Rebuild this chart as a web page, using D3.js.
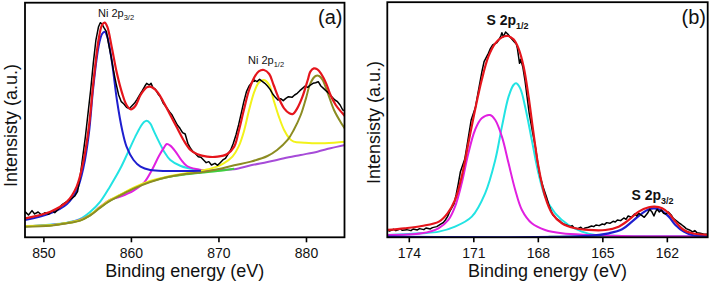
<!DOCTYPE html>
<html><head><meta charset="utf-8">
<script src="https://cdn.jsdelivr.net/npm/d3@7/dist/d3.min.js"></script>
<style>body{margin:0;background:#fff}svg{display:block}</style>
</head><body>
<svg id="c" width="709" height="287"></svg>
<script>
// ---------- Panel (a): Ni 2p ----------
const aTicks = [850, 860, 870, 880];
const aData = [[847.9,77],[848.3,67],[848.7,80],[849.0,70],[849.4,76],[849.8,67],[850.2,74],[850.6,69],[851.0,79],[851.3,74],[851.7,84],[852.1,97],[852.5,104],[852.9,110],[853.2,116],[853.6,124],[853.9,137],[854.2,182],[854.5,242],[854.8,302],[855.1,372],[855.4,442],[855.7,522],[856.0,592],[856.3,632],[856.5,644],[856.7,640],[856.9,630],[857.2,617],[857.4,587],[857.7,547],[858.0,502],[858.3,462],[858.6,427],[858.9,407],[859.2,400],[859.5,390],[859.8,386],[860.1,394],[860.4,402],[860.7,414],[861.0,427],[861.3,440],[861.6,454],[861.8,462],[862.1,457],[862.3,462],[862.5,450],[862.8,444],[863.1,430],[863.4,420],[863.7,402],[864.0,392],[864.4,377],[864.7,367],[865.0,352],[865.3,337],[865.6,327],[865.9,314],[866.2,310],[866.5,282],[866.8,267],[867.1,257],[867.4,250],[867.7,242],[868.0,240],[868.3,232],[868.6,224],[868.9,227],[869.2,217],[869.6,222],[869.9,216],[870.2,224],[870.5,232],[870.8,237],[871.1,250],[871.4,262],[871.7,282],[872.0,307],[872.3,337],[872.6,372],[872.9,407],[873.2,437],[873.5,454],[873.8,464],[874.1,472],[874.4,467],[874.7,474],[875.0,468],[875.3,462],[875.6,454],[875.9,444],[876.2,430],[876.5,420],[876.8,412],[877.1,416],[877.4,410],[877.7,417],[878.0,422],[878.4,420],[878.7,427],[879.0,432],[879.3,440],[879.6,447],[879.9,454],[880.2,450],[880.5,457],[880.8,462],[881.1,464],[881.4,467],[881.7,454],[882.0,447],[882.4,437],[882.7,430],[883.0,420],[883.3,412],[883.6,407],[883.9,397],[884.2,382],[884.5,380]];
const aFit = [[847.9,57],[850.8,77],[852.7,107],[853.8,152],[854.6,232],[855.2,332],[855.7,462],[856.3,592],[856.7,637],[857.0,644],[857.3,632],[857.8,572],[858.4,492],[859.0,432],[859.5,397],[860.0,384],[860.5,394],[861.1,427],[861.8,450],[862.2,452],[863.0,437],[863.8,402],[864.5,367],[865.3,327],[866.0,292],[866.8,262],[867.6,249],[868.7,242],[869.9,242],[871.0,250],[871.8,272],[872.3,317],[872.9,382],[873.5,442],[874.1,480],[874.6,498],[875.2,502],[875.8,490],[876.3,457],[876.9,417],[877.5,387],[878.1,372],[878.5,370],[879.0,387],[879.6,422],[880.2,472],[880.5,497],[880.9,507],[881.3,504],[881.7,492],[882.3,462],[882.8,427],[883.4,397],[884.0,377],[884.5,362]];
const aBlue = [[847.9,52],[850.8,72],[852.7,100],[853.8,140],[854.6,212],[855.2,312],[855.7,450],[856.3,572],[856.7,610],[857.0,617],[857.3,602],[857.8,532],[858.4,412],[859.0,322],[859.5,272],[860.3,232],[861.1,212],[862.2,202],[864.1,199],[866.4,199],[868.0,200]];
const aCyan = [[847.9,33],[852.7,44],[854.2,55],[855.3,75],[856.5,107],[857.6,152],[858.8,207],[859.7,257],[860.5,302],[861.1,332],[861.5,346],[861.8,350],[862.2,342],[862.6,320],[863.2,287],[863.8,257],[864.5,232],[865.7,214],[867.2,204],[868.7,200]];
const aMagenta = [[847.9,33],[852.7,43],[855.3,66],[856.5,92],[857.6,112],[858.8,122],[860.3,140],[861.5,164],[862.4,202],[863.2,244],[863.8,270],[864.1,280],[864.5,275],[865.1,257],[865.7,234],[866.4,214],[867.6,204],[868.7,200],[870.2,202]];
const aPurple = [[868.7,200],[870.2,202],[871.8,204],[873.7,216],[875.6,226],[877.5,237],[879.4,247],[881.3,257],[882.8,267],[884.5,277]];
const aYellow = [[847.9,34],[850.8,36],[852.7,43],[854.2,51],[855.3,66],[856.5,91],[857.6,112],[858.8,128],[860.3,149],[862.2,169],[864.1,182],[866.0,191],[868.0,200],[869.5,209],[870.6,222],[871.6,242],[872.3,272],[872.9,317],[873.5,382],[874.1,437],[874.6,464],[875.2,472],[875.8,457],[876.3,412],[876.9,362],[877.5,322],[878.1,297],[878.6,287],[879.8,284],[881.3,282],[883.2,284],[884.5,287]];
const aOlive = [[847.9,32],[850.8,35],[852.7,42],[854.2,50],[855.3,65],[856.5,89],[857.6,109],[858.8,126],[860.3,146],[862.2,166],[864.1,180],[866.0,189],[868.0,195],[869.9,204],[871.8,216],[873.7,227],[875.6,244],[876.7,262],[877.9,292],[878.6,322],[879.4,367],[880.0,417],[880.5,462],[881.1,484],[881.5,484],[881.9,472],[882.5,432],[883.2,382],[884.0,344],[884.5,324]];
const aGreen = [[847.9,33],[850.8,36],[852.7,43],[854.2,51],[855.3,66],[856.5,90],[857.6,110],[858.8,127],[860.3,147],[862.2,167],[864.1,180],[866.0,188],[868.0,194],[869.9,199],[871.8,206]];

// ---------- Panel (b): S 2p ----------
const bTicks = [174, 171, 168, 165, 162];
const bData = [[175.0,22],[174.9,19],[174.7,24],[174.6,20],[174.4,25],[174.3,21],[174.1,23],[173.9,20],[173.8,25],[173.6,22],[173.5,26],[173.3,23],[173.2,28],[173.0,25],[172.9,29],[172.7,32],[172.5,40],[172.4,44],[172.3,52],[172.2,62],[172.1,77],[171.9,100],[171.8,127],[171.7,160],[171.6,197],[171.4,234],[171.3,272],[171.2,312],[171.1,352],[170.9,390],[170.8,427],[170.7,462],[170.6,497],[170.5,527],[170.3,552],[170.2,567],[170.1,577],[169.9,584],[169.8,594],[169.72,604],[169.67,614],[169.6,602],[169.5,616],[169.4,610],[169.3,602],[169.2,594],[169.1,587],[169.0,580],[168.95,567],[168.9,544],[168.85,522],[168.8,534],[168.7,512],[168.6,472],[168.5,422],[168.4,372],[168.25,317],[168.1,267],[168.0,222],[167.9,184],[167.75,150],[167.6,122],[167.5,100],[167.4,82],[167.3,67],[167.15,57],[167.0,50],[166.9,44],[166.8,40],[166.65,36],[166.5,32],[166.4,35],[166.3,28],[166.15,26],[166.0,30],[165.9,24],[165.8,28],[165.65,30],[165.5,34],[165.4,32],[165.3,37],[165.15,35],[165.0,40],[164.9,38],[164.8,44],[164.65,42],[164.5,48],[164.4,46],[164.3,52],[164.15,50],[164.0,58],[163.9,54],[163.8,64],[163.65,60],[163.5,70],[163.4,64],[163.3,72],[163.2,67],[163.05,60],[162.9,72],[162.8,84],[162.7,77],[162.6,64],[162.52,77],[162.45,84],[162.35,76],[162.25,82],[162.15,72],[162.05,70],[161.93,76],[161.8,67],[161.7,57],[161.6,52],[161.45,44],[161.3,37],[161.2,32],[161.1,26],[160.95,22],[160.8,16],[160.7,20],[160.6,14],[160.45,12],[160.3,10],[160.1,9]];
const bFit = [[175.0,22],[174.2,27],[173.4,34],[172.6,47],[172.2,72],[171.85,112],[171.54,182],[171.23,282],[170.92,382],[170.61,472],[170.3,542],[169.98,582],[169.67,600],[169.39,604],[169.13,594],[168.9,567],[168.66,512],[168.43,422],[168.2,312],[167.97,212],[167.66,122],[167.34,72],[166.88,42],[166.26,27],[165.64,22],[164.86,22],[164.24,32],[163.77,52],[163.31,77],[162.84,90],[162.56,92],[162.22,87],[161.91,72],[161.6,47],[161.21,22],[160.82,12],[160.1,7]];
const bCyan = [[175.0,7],[173.4,12],[172.6,17],[171.85,32],[171.07,62],[170.45,132],[169.98,232],[169.67,332],[169.36,422],[169.13,457],[169.01,462],[168.82,447],[168.59,392],[168.28,292],[167.97,192],[167.66,122],[167.19,72],[166.57,37],[165.95,17],[165.33,7],[164.08,4],[160.1,3]];
const bMagenta = [[175.0,7],[173.4,12],[172.62,27],[172.16,52],[171.85,92],[171.54,162],[171.23,252],[170.92,322],[170.61,357],[170.22,367],[169.98,352],[169.67,302],[169.36,222],[169.05,142],[168.74,82],[168.28,42],[167.66,22],[166.88,12],[165.64,7],[164.08,4],[160.1,3]];
const bBlue = [[175.0,2],[165.64,4],[164.7,12],[164.08,24],[163.62,47],[163.15,72],[162.84,84],[162.58,87],[162.3,82],[161.91,62],[161.6,37],[161.21,17],[160.82,7],[160.1,4]];
const bGreen = [[167.5,2],[163.0,2]];

const FONT = "'Liberation Sans', Arial, Helvetica, sans-serif";
const svg = d3.select("#c");
const COL = {black:"#000", red:"#e5151c", blue:"#1f1fcf", cyan:"#22e3e3", magenta:"#e020e0",
  purple:"#a64bd8", yellow:"#f2f21a", olive:"#8c8c22", green:"#3fcf3f"};

function panel(cfg){
  const x = d3.scaleLinear().domain(cfg.xDomain).range([cfg.left, cfg.right]);
  const y = d3.scaleLinear().domain([0, 704]).range([cfg.bottom, 2.7]);
  const g = svg.append("g");
  const cid = "clip" + cfg.id;
  svg.append("defs").append("clipPath").attr("id", cid).append("rect")
    .attr("x", cfg.left).attr("y", cfg.top).attr("width", cfg.right - cfg.left).attr("height", cfg.bottom - cfg.top);
  const pg = g.append("g").attr("clip-path", `url(#${cid})`);
  const smooth = d3.line().x(d => x(d[0])).y(d => y(d[1])).curve(d3.curveCatmullRom.alpha(0.5));
  const raw = d3.line().x(d => x(d[0])).y(d => y(d[1]));
  cfg.series.forEach(s => {
    pg.append("path").datum(s.data).attr("fill", "none").attr("stroke", s.color)
      .attr("stroke-width", s.w).attr("stroke-linejoin", "round")
      .attr("d", s.raw ? raw : smooth);
  });
  // frame
  g.append("rect").attr("x", cfg.left).attr("y", cfg.top).attr("width", cfg.right - cfg.left)
    .attr("height", cfg.bottom - cfg.top).attr("fill", "none").attr("stroke", "#000").attr("stroke-width", 1.8);
  // x axis
  const ax = g.append("g").attr("transform", `translate(0,${cfg.bottom})`)
    .call(d3.axisBottom(x).tickValues(cfg.ticks).tickFormat(d3.format("d")).tickSize(5).tickSizeOuter(0).tickPadding(5.5));
  ax.select(".domain").remove();
  ax.selectAll("line").attr("stroke", "#000").attr("stroke-width", 1.6);
  ax.selectAll("text").attr("font-family", FONT).attr("font-size", 14).attr("fill", "#111");
  // axis titles
  g.append("text").attr("x", (cfg.left + cfg.right) / 2).attr("y", 277).attr("text-anchor", "middle")
    .attr("font-family", FONT).attr("font-size", 18).attr("fill", "#111").text("Binding energy (eV)");
  g.append("text").attr("transform", `translate(${cfg.ylx},${cfg.yly}) rotate(-90)`).attr("text-anchor", "middle")
    .attr("font-family", FONT).attr("font-size", 18).attr("fill", "#111").text("Intensisty (a.u.)");
  // panel tag
  g.append("text").attr("x", cfg.tagX).attr("y", 24).attr("text-anchor", "end")
    .attr("font-family", FONT).attr("font-size", 20).attr("fill", "#111").text(cfg.tag);
  // peak labels
  cfg.labels.forEach(l => {
    const t = g.append("text").attr("x", l.x).attr("y", l.y).attr("font-family", FONT)
      .attr("font-size", l.size).attr("font-weight", l.bold ? "bold" : "normal").attr("fill", "#111");
    t.append("tspan").text(l.main);
    t.append("tspan").attr("font-size", l.sub).attr("dy", l.dy).text(l.subText);
  });
}

panel({id:"a", left:25, right:344.5, top:2.7, bottom:237.3, xDomain:[847.9, 884.4], ticks:aTicks,
  ylx:17, yly:125.5, tag:"(a)", tagX:342.5,
  labels:[{x:98, y:16.7, size:11, sub:7.5, dy:3, main:"Ni 2p", subText:"3/2"},
          {x:248, y:63.5, size:11, sub:7.5, dy:3, main:"Ni 2p", subText:"1/2"}],
  series:[
    {data:aCyan, color:COL.cyan, w:2},
    {data:aMagenta, color:COL.magenta, w:2},
    {data:aPurple, color:COL.purple, w:2},
    {data:aGreen, color:COL.green, w:2},
    {data:aYellow, color:COL.yellow, w:2},
    {data:aOlive, color:COL.olive, w:2},
    {data:aBlue, color:COL.blue, w:2},
    {data:aData, color:COL.black, w:1.5, raw:true},
    {data:aFit, color:COL.red, w:2.2}
  ]});

panel({id:"b", left:387.3, right:707.7, top:2.2, bottom:237.3, xDomain:[175.0, 160.1], ticks:bTicks,
  ylx:380, yly:122.5, tag:"(b)", tagX:706,
  labels:[{x:486.5, y:25, size:14, sub:9, dy:4, bold:true, main:"S 2p", subText:"1/2"},
          {x:631.5, y:199.5, size:14, sub:9, dy:4, bold:true, main:"S 2p", subText:"3/2"}],
  series:[
    {data:bGreen, color:COL.green, w:2},
    {data:bCyan, color:COL.cyan, w:2},
    {data:bMagenta, color:COL.magenta, w:2},
    {data:bBlue, color:COL.blue, w:2.2},
    {data:bData, color:COL.black, w:1.5, raw:true},
    {data:bFit, color:COL.red, w:2.2}
  ]});
</script>
</body></html>
